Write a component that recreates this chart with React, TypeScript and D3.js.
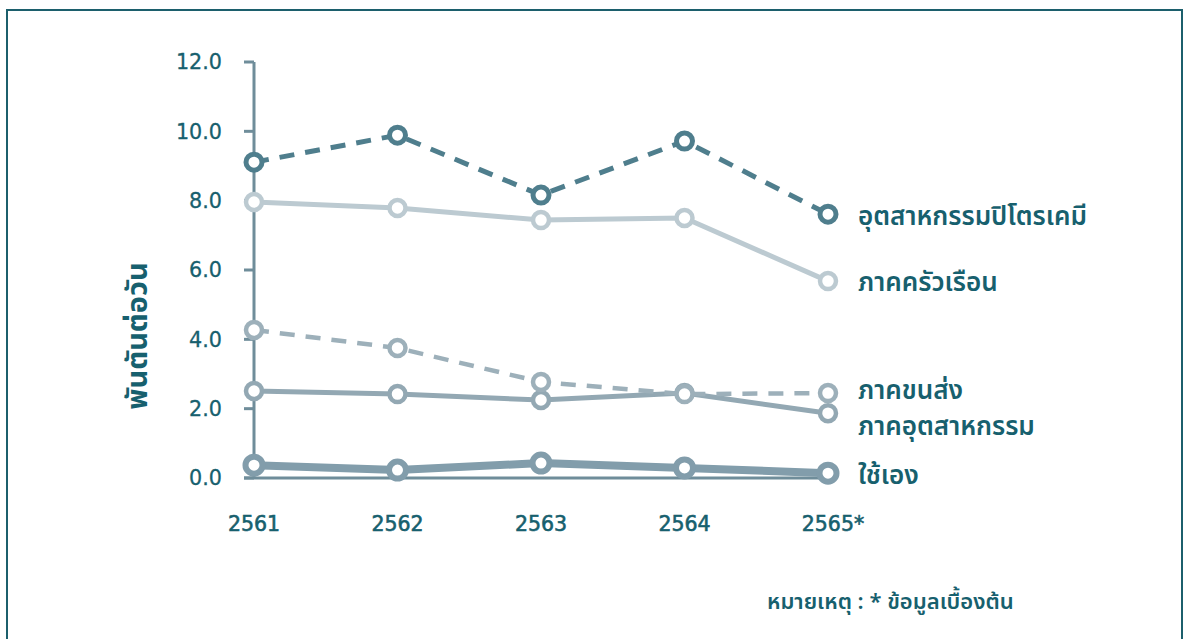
import React from "react";
import * as d3 from "d3";

const years = ["2561", "2562", "2563", "2564", "2565*"];
const yTicks = [0, 2, 4, 6, 8, 10, 12];

const petrochem = [9.11, 9.89, 8.16, 9.72, 7.61];
const household = [7.96, 7.79, 7.44, 7.5, 5.68];
const transport = [4.27, 3.75, 2.77, 2.42, 2.45];
const industry = [2.51, 2.42, 2.25, 2.45, 1.87];
const selfUse = [0.37, 0.23, 0.43, 0.29, 0.14];

const seriesNames = ["อุตสาหกรรมปิโตรเคมี", "ภาคครัวเรือน", "ภาคขนส่ง", "ภาคอุตสาหกรรม", "ใช้เอง"];

const W = 1189;
const H = 639;
const TEAL = "#17606e";
const FONT = "'Noto Sans Thai', 'Noto Sans', 'Open Sans', sans-serif";
const NUMFONT = "'DejaVu Sans', 'Noto Sans', sans-serif";

export default function App() {
  const x = d3.scalePoint<string>().domain(years).range([254, 828]);
  const y = d3.scaleLinear().domain([0, 12]).range([478, 62]);
  const line = d3
    .line<number>()
    .x((_, i) => x(years[i]) as number)
    .y((d) => y(d));

  const series = [
    { data: selfUse, color: "#829dab", width: 8, dash: undefined, r: 8.5, sw: 6 },
    { data: industry, color: "#93a8b3", width: 5, dash: undefined, r: 8, sw: 4.5 },
    { data: transport, color: "#9db0ba", width: 4.5, dash: "15 11", r: 8, sw: 4.5 },
    { data: household, color: "#bccad1", width: 5, dash: undefined, r: 8, sw: 4.5 },
    { data: petrochem, color: "#4f7e8d", width: 5, dash: "15 11", r: 8, sw: 5 },
  ];

  const legendY = [216, 282, 390, 426, 475];

  return (
    <svg width={W} height={H} style={{ display: "block", position: "absolute", left: 0, top: 0 }}>
      <rect x={0} y={0} width={W} height={H} fill="#ffffff" />
      <rect x={7} y={10} width={1175} height={660} fill="none" stroke="#1c5f6c" strokeWidth={2} />

      {/* axes */}
      <line x1={254} x2={254} y1={62} y2={478} stroke="#6f8d9a" strokeWidth={3} />
      <line x1={244} x2={x("2565*") as number} y1={478} y2={478} stroke="#6f8d9a" strokeWidth={3} />
      {yTicks.map((t) => (
        <g key={t}>
          <line x1={244} x2={254} y1={y(t)} y2={y(t)} stroke="#6f8d9a" strokeWidth={3} />
          <text
            x={222}
            y={y(t)}
            dy="0.36em"
            textAnchor="end"
            fontFamily={NUMFONT}
            fontSize={20.7}
            fill={TEAL}
            stroke={TEAL}
            strokeWidth={0.3}
          >
            {t.toFixed(1)}
          </text>
        </g>
      ))}
      {years.map((yr) => (
        <text
          key={yr}
          x={(x(yr) as number) + (yr.endsWith("*") ? 5 : 0)}
          y={524}
          dy="0.36em"
          textAnchor="middle"
          fontFamily={NUMFONT}
          fontSize={20.5}
          fill={TEAL}
          stroke={TEAL}
          strokeWidth={0.6}
        >
          {yr}
        </text>
      ))}

      <text
        transform="translate(137,336) rotate(-90)"
        textAnchor="middle"
        dy="0.35em"
        fontFamily={FONT}
        fontSize={29}
        fontWeight={700}
        fill={TEAL}
      >
        พันตันต่อวัน
      </text>

      {series.map((s, k) => (
        <g key={k}>
          <path
            d={line(s.data) || ""}
            fill="none"
            stroke={s.color}
            strokeWidth={s.width}
            strokeDasharray={s.dash}
            strokeLinejoin="round"
          />
          {s.data.map((v, i) => (
            <circle
              key={i}
              cx={x(years[i]) as number}
              cy={y(v)}
              r={s.r}
              fill="#ffffff"
              stroke={s.color}
              strokeWidth={s.sw}
            />
          ))}
        </g>
      ))}

      {seriesNames.map((n, i) => (
        <text
          key={n}
          x={858}
          y={legendY[i]}
          dy="0.36em"
          fontFamily={FONT}
          fontSize={26}
          fontWeight={600}
          fill={TEAL}
        >
          {n}
        </text>
      ))}

      <text x={767} y={601} dy="0.36em" fontFamily={FONT} fontSize={22} fontWeight={600} fill={TEAL}>
        หมายเหตุ : * ข้อมูลเบื้องต้น
      </text>
    </svg>
  );
}
